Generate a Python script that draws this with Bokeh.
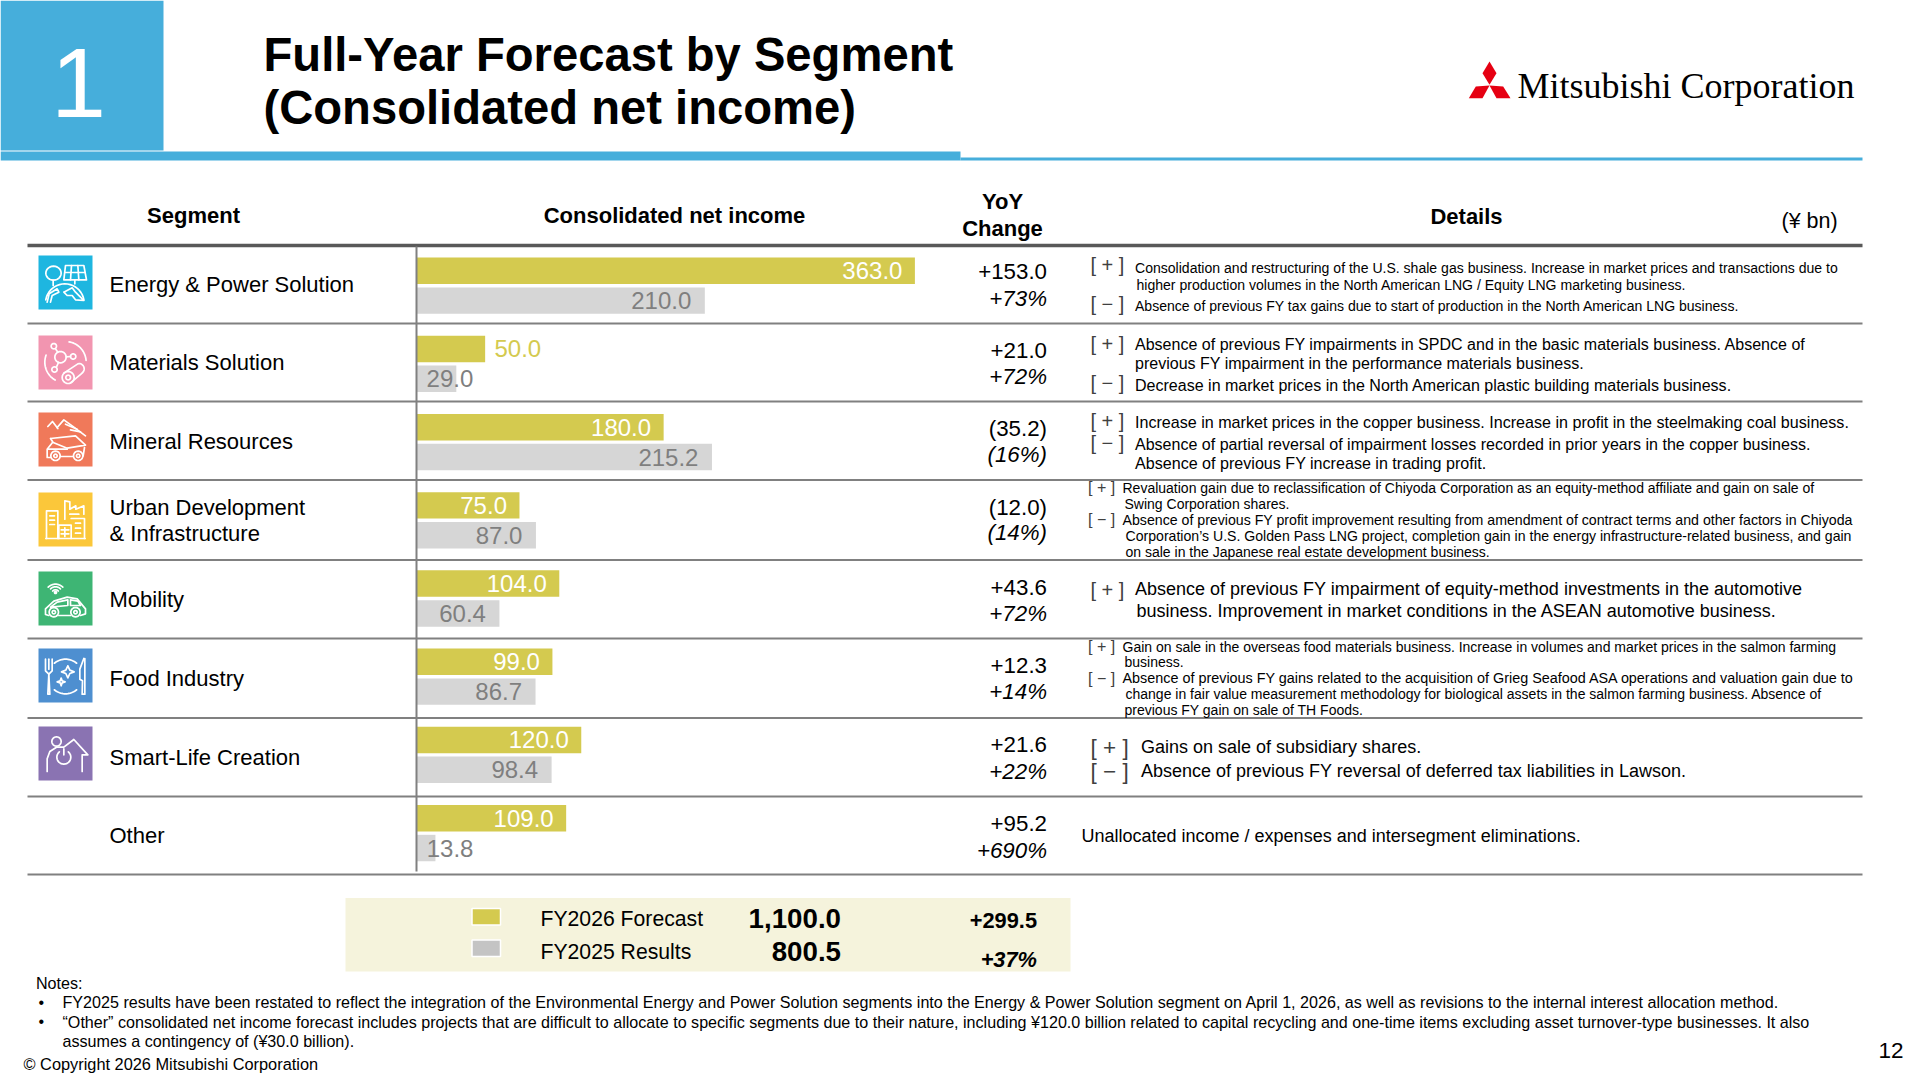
import math
from bokeh.plotting import figure
from bokeh.models import Range1d, ColumnDataSource
from bokeh.core.properties import value
from bokeh.embed import file_html
from bokeh.resources import INLINE

segments = ["Energy & Power Solution", "Materials Solution", "Mineral Resources",
            "Urban Development\n& Infrastructure", "Mobility", "Food Industry",
            "Smart-Life Creation", "Other"]
fy2026 = [363.0, 50.0, 180.0, 75.0, 104.0, 99.0, 120.0, 109.0]
fy2025 = [210.0, 29.0, 215.2, 87.0, 60.4, 86.7, 98.4, 13.8]
yoy_abs = ["+153.0", "+21.0", "(35.2)", "(12.0)", "+43.6", "+12.3", "+21.6", "+95.2"]
yoy_pct = ["+73%", "+72%", "(16%)", "(14%)", "+72%", "+14%", "+22%", "+690%"]
total_labels = ["FY2026 Forecast", "FY2025 Results"]
total_values = ["1,100.0", "800.5"]
total_change = ["+299.5", "+37%"]

FONT = "Liberation Sans"
SERIF = "Liberation Serif"
YEL, GRY = "#D4CA4F", "#D6D6D6"
BLUE = "#46AEDB"

# reference pixels
p = figure(width=1920, height=1080, output_backend="svg", toolbar_location=None,
           x_range=Range1d(0, 1920), y_range=Range1d(1080, 0),
           x_axis_location=None, y_axis_location=None, min_border=0,
           outline_line_color=None, background_fill_color="white")
p.grid.visible = False
BASE, PXU = 416.0, 1.373
ROW0, ROWH = 285.2, 78.2
p.extra_x_ranges["val"] = Range1d((0 - BASE) / PXU, (1920 - BASE) / PXU)
p.extra_y_ranges["row"] = Range1d((1080 - ROW0) / ROWH, (0 - ROW0) / ROWH)


def T(x, y, s, size, color="black", align="left", style="normal", font=FONT):
    p.text([x], [y], text=[s], text_font=value(font), text_font_size=f"{size}px", text_color=color,
           text_align=align, text_baseline="middle", text_font_style=style)


def R(x0, y0, x1, y1, color, line=None, lw=0):
    p.quad(left=[x0], right=[x1], top=[y0], bottom=[y1], fill_color=color,
           line_color=line, line_width=lw)


def H(x0, x1, y, color, w):
    p.line([x0, x1], [y, y], line_color=color, line_width=w)


# header band
R(0, 0, 163, 150, BLUE)
R(0, 151, 960, 160, BLUE)
R(960, 157, 1862, 160, BLUE)
T(78, 82, "1", 99, "white", "center")
T(263, 54, "Full-Year Forecast by Segment", 47.2, style="bold")
T(263, 107, "(Consolidated net income)", 47.2, style="bold")

# logo
for xs, ys in [([1489, 1496, 1489, 1482], [61, 72.7, 84.3, 72.7]),
               ([1468.3, 1482, 1489, 1475.3], [97.7, 97.7, 85, 86]),
               ([1489, 1502.7, 1510, 1496], [85, 86, 97.7, 97.7])]:
    p.patch(xs, ys, fill_color="#E60012", line_color=None)
T(1517, 85, "Mitsubishi Corporation", 36, font=SERIF)

# table headers
T(193, 214.5, "Segment", 22, align="center", style="bold")
T(674, 214.5, "Consolidated net income", 22, align="center", style="bold")
T(1002, 201, "YoY", 22, align="center", style="bold")
T(1002, 228, "Change", 22, align="center", style="bold")
T(1466, 215.5, "Details", 22, align="center", style="bold")
T(1781, 220.5, "(¥ bn)", 21.5)

# rules
H(27, 1862, 245, "#595959", 3.5)
for yy in [323, 401, 479.5, 559.5, 638, 717.5, 796, 874]:
    H(27, 1862, yy, "#808080", 2)

# bars
rows = list(range(len(segments)))
DY = 0.191
BH = 0.338
ya = [r - DY for r in rows]
yb = [r + DY for r in rows]
off_a = [56 if v < 60 else -12.5 for v in fy2026]
off_b = [17 if 20 < v < 30 else (38 if v <= 20 else -13.5) for v in fy2025]
col_a = [YEL if v < 60 else "white" for v in fy2026]
src_a = ColumnDataSource(dict(y=ya, v=fy2026, t=[f"{v:.1f}" for v in fy2026], o=off_a, c=col_a))
src_b = ColumnDataSource(dict(y=yb, v=fy2025, t=[f"{v:.1f}" for v in fy2025], o=off_b))
p.hbar(y="y", right="v", left=0, height=BH, source=src_a, fill_color=YEL, line_color=None,
       x_range_name="val", y_range_name="row")
p.hbar(y="y", right="v", left=0, height=BH, source=src_b, fill_color=GRY, line_color=None,
       x_range_name="val", y_range_name="row")
p.text(x="v", y="y", text="t", x_offset="o", source=src_a, x_range_name="val", y_range_name="row",
       text_font=value(FONT), text_font_size="24px", text_color="c", text_align="right", text_baseline="middle")
p.text(x="v", y="y", text="t", x_offset="o", source=src_b, x_range_name="val", y_range_name="row",
       text_font=value(FONT), text_font_size="24px", text_color="#7F7F7F", text_align="right", text_baseline="middle")
p.line([416, 416], [246, 871], line_color="#808080", line_width=2)

# segment names
NAME_Y = [284, 362, 440.5, None, 598.5, 678, 757, 835]
for name, yy in zip(segments, NAME_Y):
    if yy is None:
        a, b = name.split("\n")
        T(109, 506.5, a, 22)
        T(109, 533, b, 22)
    else:
        T(109, yy, name, 22)

# yoy
Y1 = [271, 349.5, 428.3, 507.3, 586.5, 664.8, 744.3, 823]
Y2 = [298, 376, 454.3, 532.3, 612.5, 691.3, 771, 849.5]
for a, b, y1, y2 in zip(yoy_abs, yoy_pct, Y1, Y2):
    T(1046.5, y1, a, 22.3, align="right")
    T(1046.5, y2, b, 22.3, align="right", style="italic")

# details
PL, MI = "[ + ]", "[ − ]"
B = [(1090, 264.5, PL, 20), (1090, 303, MI, 20),
     (1090, 343, PL, 20), (1090, 382.5, MI, 20),
     (1090, 420, PL, 20), (1090, 442, MI, 20),
     (1087.5, 487, PL, 16), (1087.5, 519, MI, 16),
     (1090, 589, PL, 20),
     (1087.5, 645.5, PL, 16), (1087.5, 677.5, MI, 16),
     (1090, 747, PL, 22.5), (1090, 770.5, MI, 22.5)]
for x, y, s, z in B:
    T(x, y, s, z, "#404040")
D = [(1134.5, 267, 14.05, "Consolidation and restructuring of the U.S. shale gas business. Increase in market prices and  transactions due to"),
     (1136, 284.5, 14.05, "higher production volumes in the North American LNG / Equity LNG marketing business."),
     (1134.5, 305.5, 14.05, "Absence of previous FY tax gains due to start of production in the North American LNG business."),
     (1134.5, 343.5, 16.05, "Absence of previous FY impairments in SPDC and in the basic materials business. Absence of"),
     (1134.5, 362.5, 16.05, "previous FY impairment in the performance materials business."),
     (1134.5, 384.5, 16.05, "Decrease in market prices in the North American plastic building materials business."),
     (1134.5, 421.8, 16.1, "Increase in market prices in the copper business. Increase in profit in the steelmaking coal business."),
     (1134.5, 443.3, 16.05, "Absence of partial reversal of impairment losses recorded in prior years in the copper business."),
     (1134.5, 462.4, 16.1, "Absence of previous FY increase in trading profit."),
     (1122, 487.5, 14, "Revaluation gain due to reclassification of Chiyoda Corporation as an equity-method affiliate and gain on sale of"),
     (1124, 503.2, 14, "Swing Corporation shares."),
     (1122, 519, 14.17, "Absence of previous FY profit improvement resulting from amendment of contract terms and other factors in Chiyoda"),
     (1125, 535, 14.1, "Corporation’s U.S. Golden Pass LNG project, completion gain in the energy infrastructure-related business, and gain"),
     (1125, 551.5, 14, "on sale in the Japanese real estate development business."),
     (1134.5, 588.5, 18, "Absence of previous FY impairment of equity-method investments in the automotive"),
     (1136, 610.5, 18, "business. Improvement in market conditions in the ASEAN automotive business."),
     (1122, 646, 14, "Gain on sale in the overseas food materials business. Increase in volumes and market prices in the salmon farming"),
     (1124, 661.5, 14, "business."),
     (1122, 677.5, 14.38, "Absence of previous FY gains related to the acquisition of Grieg Seafood ASA operations and valuation gain due to"),
     (1125, 693, 14, "change in fair value measurement methodology for biological assets in the salmon farming business. Absence of"),
     (1124, 709, 14, "previous FY gain on sale of TH Foods."),
     (1140.5, 746.5, 18, "Gains on sale of subsidiary shares."),
     (1140.5, 770.5, 18, "Absence of previous FY reversal of deferred tax liabilities in Lawson."),
     (1081, 835, 18, "Unallocated income / expenses and intersegment eliminations.")]
for x, y, z, s in D:
    T(x, y, s, z)

# totals
R(345, 897.5, 1070, 971, "#F5F3DC")
R(471.5, 908, 500, 924.5, YEL, "white", 1.5)
R(471.5, 939.5, 500, 956, "#C4C4C4", "white", 1.5)
for yy, lab, val in zip([918, 951], total_labels, total_values):
    T(540, yy, lab, 21.2)
    T(840.5, yy, val, 27.7, align="right", style="bold")
T(1036.5, 920, total_change[0], 21.8, align="right", style="bold")
T(1036.5, 959, total_change[1], 21.8, align="right", style="bold italic")

# notes
T(35.5, 982.5, "Notes:", 16.1)
T(38, 1001.5, "•", 16)
T(38, 1021, "•", 16)
T(62, 1001.5, "FY2025 results have been restated to reflect the integration of the Environmental Energy and Power Solution segments into the Energy & Power Solution segment on April 1, 2026, as well as revisions to the internal interest allocation method.", 16.13)
T(62, 1021, "“Other” consolidated net income forecast includes projects that are difficult to allocate to specific segments due to their nature, including ¥120.0 billion related to capital recycling and one-time items excluding asset turnover-type businesses. It also", 16.1)
T(62, 1040, "assumes a contingency of (¥30.0 billion).", 16.1)
T(23, 1063.5, "© Copyright 2026 Mitsubishi Corporation", 16.35)
T(1903, 1050, "12", 22.5, align="right")


# icons: zoom-space (3x) drawing helpers
def arc(cx, cy, rx, ry, a0, a1, n=20):
    return [(cx + rx * math.cos(math.radians(a0 + (a1 - a0) * i / n)),
             cy + ry * math.sin(math.radians(a0 + (a1 - a0) * i / n))) for i in range(n + 1)]


def circ(cx, cy, r):
    return arc(cx, cy, r, r, 0, 360, 24)


def icon(x0, y0, color, ox, oy, paths, w=1.7):
    R(x0, y0, x0 + 54, y0 + 54, color)
    xs = [[x0 + (a - ox) / 3 for a, b in q] for q in paths]
    ys = [[y0 + (b - oy) / 3 for a, b in q] for q in paths]
    p.multi_line(xs, ys, line_color="white", line_width=w, line_join="round", line_cap="round")


icon(38, 255, "#1EB6E0", 24, 15, [
    arc(69, 68, 23, 21, 0, 360, 24),
    [(68, 89), (68, 105)],
    [(105, 45), (160, 45), (168, 88), (100, 88), (105, 45)],
    [(123, 45), (120, 88)], [(142, 45), (145, 88)], [(103, 66), (164, 66)],
    [(133, 88), (133, 100)],
    arc(103, 158, 58, 58, 190, 350),
    [(50, 155), (56, 130), (80, 115), (85, 125), (65, 135), (60, 155)],
    [(100, 125), (125, 112), (135, 125), (150, 140), (160, 150), (135, 148), (125, 135), (110, 135), (100, 125)],
])
icon(38, 335, "#F295B0", 24, 255, [
    circ(90, 320, 17), circ(70, 287, 8), circ(128, 318, 8), circ(72, 357, 8),
    [(75, 295), (82, 305)], [(107, 319), (120, 318)], [(78, 349), (84, 336)],
    arc(105, 335, 62, 62, -80, -5), arc(105, 335, 62, 62, 120, 200),
    [(100, 368), (142, 340)] + arc(145, 355, 16, 16, -85, 60) + [(155, 368), (120, 397)],
    circ(113, 381, 18), circ(113, 381, 7),
])
icon(38, 412, "#F0795A", 24, 20, [
    [(52, 62), (66, 47), (82, 68)], [(80, 65), (100, 42), (125, 60), (165, 90)],
    [(105, 55), (140, 70)], [(120, 72), (150, 78)],
    [(60, 98), (135, 90), (165, 118), (110, 127), (68, 110), (60, 98)],
    [(66, 110), (50, 130), (50, 155), (60, 155)],
    circ(75, 150, 14), circ(75, 150, 5), circ(143, 150, 14), circ(143, 150, 5),
    [(90, 152), (128, 152)], [(158, 150), (162, 125)],
    [(52, 130), (110, 130)],
])
icon(38, 492, "#FBC73A", 24, 260, [
    [(48, 398), (48, 315), (82, 315), (82, 398)], [(58, 330), (72, 330)], [(58, 343), (72, 343)], [(58, 356), (72, 356)],
    [(85, 398), (85, 358), (122, 358), (122, 398)], [(92, 372), (115, 372)], [(92, 384), (115, 384)], [(103, 366), (103, 392)],
    [(122, 338), (162, 338), (162, 398)], [(135, 352), (150, 352)], [(135, 367), (150, 367)], [(135, 382), (150, 382)],
    [(46, 398), (164, 398)],
    [(103, 340), (103, 285), (118, 288), (118, 310), (136, 300), (136, 310), (160, 300), (160, 325)],
    [(118, 325), (145, 325)],
])
icon(38, 571, "#3EB574", 24, 3, [
    arc(75, 70, 12, 12, -135, -45), arc(75, 70, 21, 21, -135, -45), arc(75, 72, 31, 31, -135, -45),
    circ(75, 66, 3),
    [(55, 135), (45, 132), (45, 115), (70, 92), (110, 80), (140, 85), (165, 115), (165, 130), (150, 135)],
    [(85, 135), (120, 135)], [(60, 110), (80, 95), (112, 88), (112, 105), (60, 110)], [(120, 88), (142, 92), (150, 105), (120, 105), (120, 88)],
    circ(70, 125, 14), circ(70, 125, 5), circ(135, 125, 14), circ(135, 125, 5),
])
icon(38, 648, "#4E8FD0", 24, 8, [
    [(45, 40), (45, 75), (55, 85), (65, 75), (65, 40)], [(55, 40), (55, 70)], [(55, 85), (52, 145), (58, 145), (55, 85)],
    [(160, 38), (148, 70), (148, 100), (156, 105), (155, 145), (163, 145), (163, 38)],
    arc(105, 92, 52, 52, -130, -50), arc(105, 92, 52, 52, 50, 130),
    [(112, 60), (118, 73), (131, 78), (118, 83), (112, 96), (106, 83), (93, 78), (106, 73), (112, 60)],
    [(92, 97), (95, 105), (104, 108), (95, 111), (92, 120), (89, 111), (80, 108), (89, 105), (92, 97)],
])
icon(38, 726, "#8A73B2", 24, 243, [
    circ(78, 288, 14),
    [(50, 378), (50, 340), (58, 318), (78, 305), (98, 305)],
    [(100, 305), (130, 282), (172, 328), (155, 328), (155, 378)],
    arc(100, 335, 21, 21, -50, 230), [(100, 310), (100, 328)],
])

open("out.html", "w").write(file_html(p, INLINE))
